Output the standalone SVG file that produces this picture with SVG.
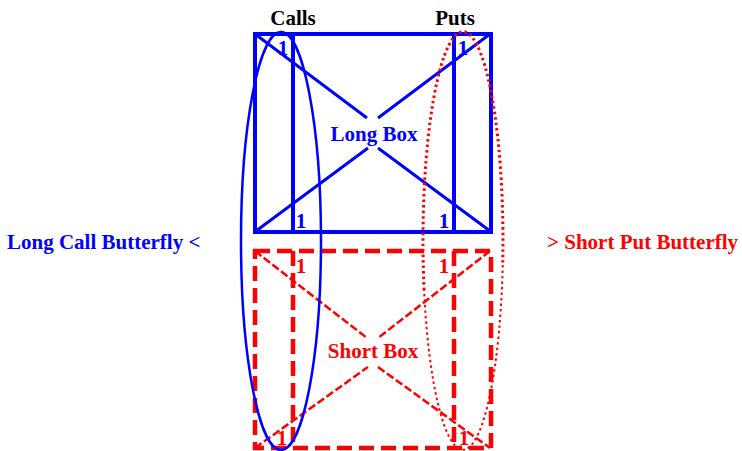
<svg xmlns="http://www.w3.org/2000/svg" width="742" height="451" viewBox="0 0 742 451">
<style>
text{font-weight:bold;font-size:21px}
.blue{fill:#0000ff}
.red{fill:#ff0000}
.black{fill:#000}
.mid{text-anchor:middle}
.lbox{fill:none;stroke:#0000ff;stroke-width:4}
.ldiag{fill:none;stroke:#0000ff;stroke-width:3}
.sbox{fill:none;stroke:#ff0000;stroke-width:4.5;stroke-dasharray:15 7}
.sdiag{fill:none;stroke:#ff0000;stroke-width:2.5;stroke-dasharray:8 3}
.callell{fill:none;stroke:#0000ff;stroke-width:2.5}
.putell{fill:none;stroke:#ff0000;stroke-dasharray:2.5 3}
</style>
<rect width="742" height="451" fill="#fff"/>
<g font-family="'Liberation Serif', 'DejaVu Serif', serif">
<g id="headers">
<text class="black mid" x="293" y="25">Calls</text>
<text class="black mid" x="455" y="25">Puts</text>
</g>
<g id="long-box">
<rect class="lbox" x="255" y="34" width="236" height="198"/>
<line class="lbox" x1="293" y1="34" x2="293" y2="232"/>
<line class="lbox" x1="454" y1="34" x2="454" y2="232"/>
<line class="ldiag" x1="255" y1="34" x2="367" y2="118"/>
<line class="ldiag" x1="490" y1="34" x2="378" y2="118"/>
<line class="ldiag" x1="256" y1="231" x2="368" y2="148"/>
<line class="ldiag" x1="378" y1="148" x2="490" y2="231"/>
<text class="blue mid" x="374" y="141">Long Box</text>
<text class="blue mid" x="283" y="55">1</text>
<text class="blue mid" x="463" y="55">1</text>
<text class="blue mid" x="301" y="228">1</text>
<text class="blue mid" x="444" y="228">1</text>
</g>
<g id="short-box">
<rect class="sbox" x="255" y="251" width="236" height="197"/>
<line class="sbox" x1="293" y1="251" x2="293" y2="448"/>
<line class="sbox" x1="454" y1="251" x2="454" y2="448"/>
<line class="sdiag" x1="255" y1="251" x2="367" y2="338"/>
<line class="sdiag" x1="490" y1="251" x2="378" y2="338"/>
<line class="sdiag" x1="255" y1="448" x2="368" y2="367"/>
<line class="sdiag" x1="378" y1="367" x2="490" y2="448"/>
<text class="red mid" x="373" y="358">Short Box</text>
<text class="red mid" x="301" y="273">1</text>
<text class="red mid" x="444" y="273">1</text>
<text class="red mid" x="282" y="445">1</text>
<text class="red mid" x="464" y="445">1</text>
</g>
<g id="long-call-butterfly">
<ellipse class="callell" cx="281" cy="241" rx="40" ry="209"/>
<text class="blue" x="7" y="249">Long Call Butterfly &lt;</text>
</g>
<g id="short-put-butterfly">
<path class="putell" stroke-width="3" d="M424.1,290 A40,209 0 1 1 502.7,265"/>
<path class="putell" stroke-width="2" d="M502.7,265 A40,209 0 0 1 424.1,290"/>
<text class="red" x="547" y="249">&gt; Short Put Butterfly</text>
</g>
</g>
</svg>
